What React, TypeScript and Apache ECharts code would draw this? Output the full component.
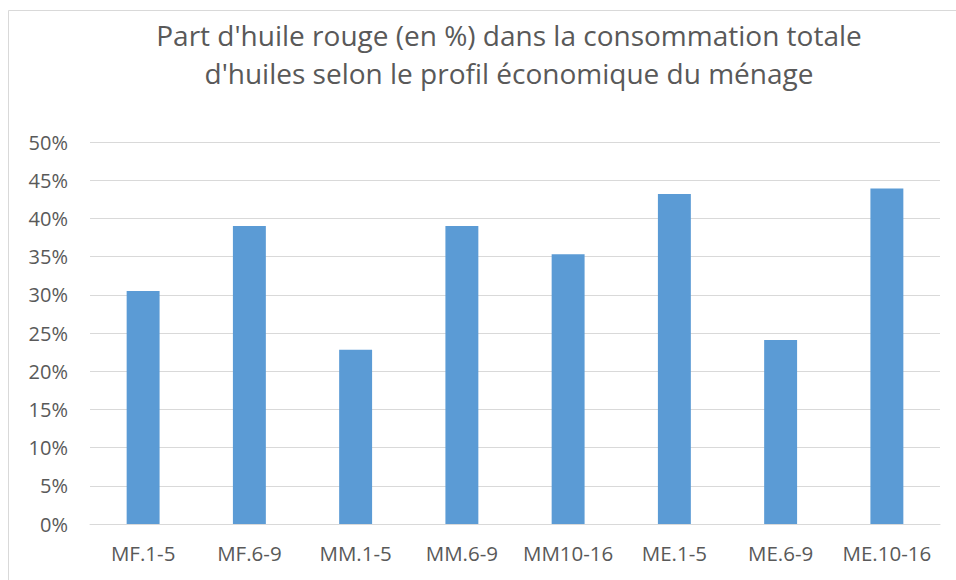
import React, { useEffect, useRef } from "react";
import * as echarts from "echarts";

const titleLines = [
  "Part d'huile rouge (en %) dans la consommation totale",
  "d'huiles selon le profil économique du ménage",
];
const categories = ["MF.1-5", "MF.6-9", "MM.1-5", "MM.6-9", "MM10-16", "ME.1-5", "ME.6-9", "ME.10-16"];
const shares = [30.5, 39.0, 22.8, 39.0, 35.3, 43.2, 24.1, 43.9];
const yMin = 0;
const yMax = 50;
const yStep = 5;

const FONT = "'Open Sans', sans-serif";
const TEXT = "#595959";

export default function App() {
  const ref = useRef<HTMLDivElement>(null);
  useEffect(() => {
    if (!ref.current) return;
    const chart = echarts.init(ref.current, null, { renderer: "svg" });
    chart.setOption({
      animation: false,
      backgroundColor: "#ffffff",
      title: {
        text: titleLines.join("\n"),
        left: 504,
        top: 11,
        textAlign: "center",
        textStyle: {
          fontFamily: FONT,
          fontSize: 28,
          fontWeight: "normal",
          color: TEXT,
          lineHeight: 38,
        },
      },
      graphic: [
        {
          type: "rect",
          shape: { x: 8.5, y: 10.5, width: 1000, height: 600 },
          style: { fill: "none", stroke: "#d9d9d9", lineWidth: 1 },
          silent: true,
          z: -1,
        },
      ],
      grid: { left: 90, right: 16, top: 142, bottom: 56, containLabel: false },
      xAxis: {
        type: "category",
        data: categories,
        axisLine: { show: true, lineStyle: { color: "#d9d9d9", width: 1 } },
        axisTick: { show: false },
        axisLabel: { interval: 0, fontFamily: FONT, fontSize: 20.5, color: TEXT, margin: 18 },
      },
      yAxis: {
        type: "value",
        min: yMin,
        max: yMax,
        interval: yStep,
        axisLine: { show: false },
        axisTick: { show: false },
        splitLine: { lineStyle: { color: "#d9d9d9", width: 1 } },
        axisLabel: {
          fontFamily: FONT,
          fontSize: 20,
          color: TEXT,
          margin: 22,
          formatter: (v: number) => `${v}%`,
        },
      },
      series: [
        {
          type: "bar",
          data: shares,
          barWidth: "31%",
          itemStyle: { color: "#5B9BD5" },
        },
      ],
    });
    return () => chart.dispose();
  }, []);
  return (
    <div
      ref={ref}
      style={{ position: "absolute", left: 0, top: 0, width: 956, height: 580 }}
    />
  );
}
